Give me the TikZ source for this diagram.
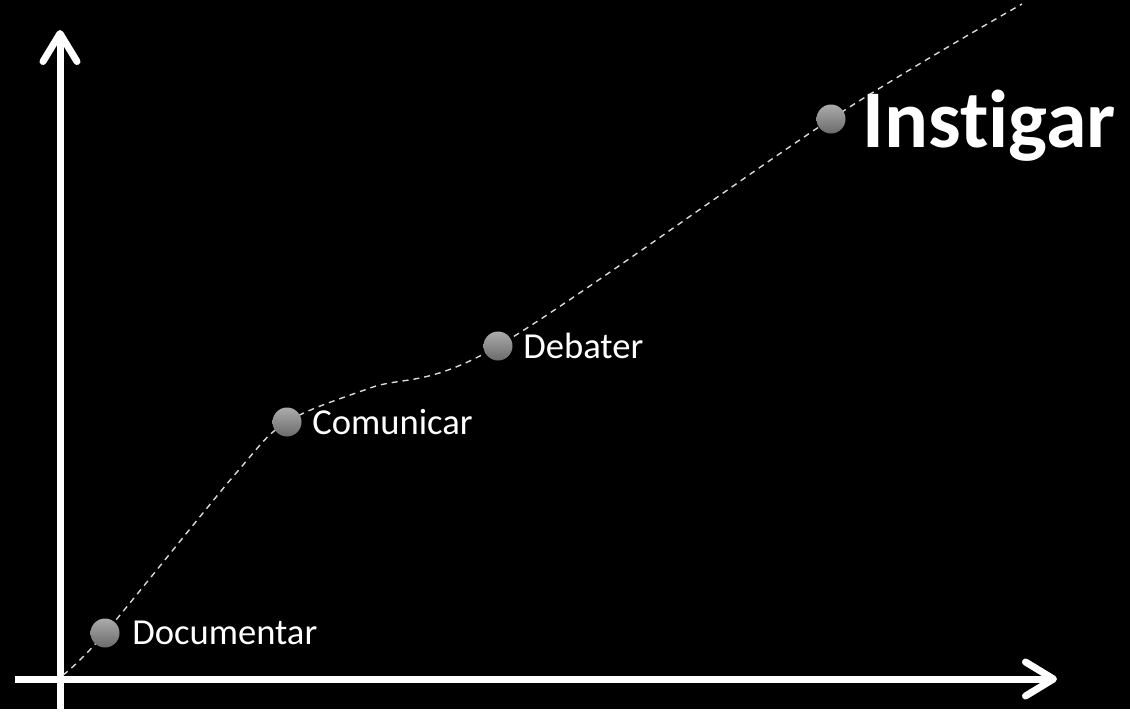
\documentclass[tikz,border=0pt]{standalone}
\usepackage{fontspec}
\setmainfont[Ligatures=NoCommon]{Carlito}
\usetikzlibrary{
	arrows.meta,
	positioning
	}

\tikzset{
	axis/.style={white, line width=3.5pt, -{Straight Barb[length=14pt,width=17pt,line cap=round,line join=round]}},
	dot/.style={circle, minimum size=14.5pt, inner sep=0pt, top color=black!33, bottom color=black!58},
	steplabel/.style={text=white, inner sep=0pt, text depth=0pt, font=\fontsize{18.3}{20}\selectfont},
	biglabel/.style={text=white, inner sep=0pt, text depth=0pt, font=\fontsize{41}{46}\selectfont\bfseries}
}

\begin{document}
\begin{tikzpicture}[x=0.5pt,y=-0.5pt]
	\fill[black] (0,0) rectangle (1130,709);
	% axes
	\coordinate (ybot) at (60,709);
	\coordinate (ytop) at (60,30);
	\coordinate (xleft) at (15,679);
	\coordinate (xright) at (1057,679);
	\draw[axis] (ybot) -- (ytop);
	\draw[axis] (xleft) -- (xright);
	% the steps
	\coordinate (start) at (63,675);
	\coordinate (stop) at (1022,4);
	\coordinate (doc) at (105,633);
	\coordinate (com) at (287,422);
	\coordinate (deb) at (498,346);
	\coordinate (ins) at (831,119);
	\draw[white!85!black, line width=0.7pt, dash pattern=on 3pt off 2.5pt]
		plot[smooth, tension=0.55] coordinates {(start) (doc) (237,472) (com) (370,388) (deb) (ins) (stop)};
	\node[dot] (docdot) at (doc) {};
	\node[dot] (comdot) at (com) {};
	\node[dot] (debdot) at (deb) {};
	\node[dot] (insdot) at (ins) {};
	\node[steplabel, right=6pt of docdot] (doclabel) {Documentar};
	\node[steplabel, right=5pt of comdot] (comlabel) {Comunicar};
	\node[steplabel, right=5pt of debdot] (deblabel) {Debater};
	\node[biglabel, right=8pt of insdot] (inslabel) {Instigar};
\end{tikzpicture}
\end{document}
